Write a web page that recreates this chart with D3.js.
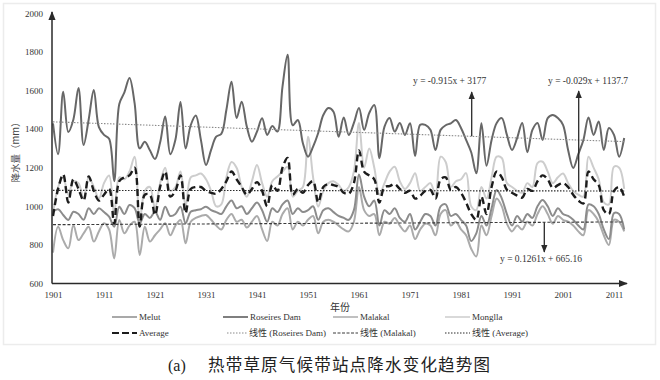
<!DOCTYPE html>
<html><head><meta charset="utf-8">
<script src="https://cdn.jsdelivr.net/npm/d3@7"></script>
<style>
html,body{margin:0;padding:0;background:#fff;}
svg{display:block;}
</style></head>
<body>
<svg id="c" width="660" height="380"></svg>
<script>
const startYear = 1901, endYear = 2013;
const xTicks = [1901,1911,1921,1931,1941,1951,1961,1971,1981,1991,2001,2011];
const yTicks = [600,800,1000,1200,1400,1600,1800,2000];

const roseires = [1430,1270,1593,1385,1450,1613,1318,1450,1603,1410,1370,1350,1130,1530,1590,1665,1535,1300,1335,1290,
1245,1330,1465,1270,1345,1540,1300,1420,1470,1344,1214,1292,1361,1375,1500,1645,1458,1542,1413,1335,
1387,1456,1370,1416,1387,1620,1785,1420,1447,1327,1257,1309,1380,1473,1509,1490,1360,1460,1370,1432,
1509,1396,1483,1525,1249,1413,1458,1387,1432,1370,1430,1260,1422,1422,1396,1292,1396,1420,1430,1447,
1406,1344,1280,1171,1430,1210,1344,1432,1457,1370,1292,1353,1432,1280,1396,1432,1344,1457,1473,1457,
1422,1292,1199,1270,1344,1460,1370,1439,1292,1406,1370,1257,1354];

const average = [950,1090,1165,1020,1140,1090,1030,1155,1080,1030,1060,1090,910,1130,1150,1160,1200,895,1060,1060,
955,1100,1180,1050,1080,1160,965,1090,1100,1100,1080,1070,1065,1090,1130,1180,1140,1100,1060,1090,
1125,1080,1000,1110,1080,1200,1250,1060,1090,1070,1110,1130,1020,1100,1115,1110,1100,1070,1065,1120,
1290,1180,1160,1140,1020,1100,1105,1115,1090,1070,1080,1040,1055,1080,1085,1040,1140,1150,1085,1100,
1070,1020,960,930,1050,960,1100,1180,1150,1085,1070,1055,1045,1090,1080,1130,1160,1140,1095,1110,
1120,1100,1060,1030,1015,1180,1140,1110,980,960,1080,1100,1050];

const mongalla = [960,1100,1150,1060,1130,1120,1040,1150,1100,1040,1120,1160,960,1150,1140,1180,1257,920,1080,1100,
990,1120,1200,1080,1100,1180,1000,1150,1160,1170,1140,1080,1000,1010,1150,1230,1200,1100,1050,1130,
1214,1120,1050,1130,1154,1180,1205,1050,1080,1100,1361,1150,998,1080,1120,1130,1110,1080,1100,1180,
1432,1200,1300,1200,1060,1120,1180,1205,1130,1090,1120,1171,1080,1100,1120,1060,1257,1230,1100,1130,
1140,1172,1000,980,1100,1040,1150,1257,1250,1120,1100,1080,1070,1120,1100,1224,1231,1180,1120,1150,
1170,1120,1080,1060,1050,1257,1200,1140,1020,1010,1205,1200,1090];

const melut = [972,985,955,929,972,960,930,990,960,990,970,946,894,998,960,1007,990,912,960,940,
972,930,998,950,960,998,912,972,980,985,998,980,970,960,1000,1030,990,1000,960,990,
1020,980,920,990,970,1010,1030,960,990,970,980,1000,930,980,990,970,950,940,930,980,
1165,1050,1000,1030,900,980,960,990,940,920,960,880,920,960,950,900,1000,1010,950,960,
930,900,820,860,950,900,990,1085,1040,960,900,950,920,960,940,1000,1033,1000,950,990,
960,950,930,900,880,1010,1000,960,880,830,965,960,880];

const malakal = [760,894,825,782,903,825,860,894,817,870,912,880,730,929,860,900,920,748,894,817,
850,880,912,850,900,929,808,920,940,950,955,930,900,880,930,960,920,930,890,920,
950,880,820,920,900,960,990,880,920,900,930,950,860,920,930,920,900,880,870,920,
1100,980,950,960,850,920,910,940,900,870,900,830,880,910,900,850,960,980,900,920,
880,850,780,740,900,850,950,1040,1000,910,870,900,880,920,900,960,1000,960,910,950,
930,920,900,870,850,980,960,920,850,800,930,920,870];

// trend line coefficients printed on the chart: [slope, intercept]
const trendRoseires = [-0.915, 3177];
const trendMalakal = [0.1261, 665.16];
const trendAverage = [-0.029, 1137.7];

const years = d3.range(startYear, endYear + 1);

const svg = d3.select("#c");
svg.append("rect").attr("x",0).attr("y",0).attr("width",660).attr("height",380).attr("fill","#fff");
svg.append("rect").attr("x",3.5).attr("y",3.5).attr("width",652).attr("height",341)
  .attr("fill","none").attr("stroke","#ececec").attr("stroke-width",1.5);

const x = d3.scaleLinear().domain([startYear, endYear]).range([53, 624.2]);
const y = d3.scaleLinear().domain([600, 2000]).range([283.5, 13.3]);

const defs = svg.append("defs");
defs.append("marker").attr("id","arr").attr("viewBox","0 0 10 10").attr("refX",9).attr("refY",5)
  .attr("markerWidth",6).attr("markerHeight",6).attr("orient","auto")
  .append("path").attr("d","M0,1 L10,5 L0,9 z").attr("fill","#2a2a2a");

const serif = "'Liberation Serif','Times New Roman','Noto Sans CJK SC',serif";

// axes labels
const gx = svg.append("g").attr("transform","translate(0,283.5)")
  .call(d3.axisBottom(x).tickValues(xTicks).tickSize(0).tickPadding(8).tickFormat(d3.format("d")));
gx.select(".domain").remove();
gx.attr("font-family",null);
gx.selectAll("text").style("font-family",serif).style("font-size","9px").attr("fill","#333");

const gy = svg.append("g").attr("transform","translate(52,0)")
  .call(d3.axisLeft(y).tickValues(yTicks).tickSize(0).tickPadding(9).tickFormat(d3.format("d")));
gy.select(".domain").remove();
gy.attr("font-family",null);
gy.selectAll("text").style("font-family",serif).style("font-size","9px").attr("fill","#333");

// series
const line = d3.line().x((d,i)=>x(years[i])).y(d=>y(d)).curve(d3.curveCatmullRom.alpha(0.5));
const series = [
  {name:"Mongalla", data:mongalla, color:"#cdcdcd", w:2, dash:null},
  {name:"Malakal", data:malakal, color:"#ababab", w:2, dash:null},
  {name:"Melut", data:melut, color:"#8c8c8c", w:2, dash:null},
  {name:"Roseires Dam", data:roseires, color:"#676767", w:2, dash:null},
  {name:"Average", data:average, color:"#1c1c1c", w:2.4, dash:"7,4"}
];
series.forEach(s=>{
  svg.append("path").datum(s.data).attr("d",line).attr("fill","none")
    .attr("stroke",s.color).attr("stroke-width",s.w).attr("stroke-dasharray",s.dash)
    .attr("stroke-linejoin","round");
});

// trend lines
const trends = [
  {c:trendRoseires, color:"#8a8a8a", w:1.1, dash:"1.5,1.5"},
  {c:trendMalakal, color:"#3a3a3a", w:1.1, dash:"3,1.8"},
  {c:trendAverage, color:"#2a2a2a", w:1.1, dash:"1.5,1.5"}
];
trends.forEach(t=>{
  const ends = [startYear, endYear].map(yr=>[x(yr), y(t.c[0]*yr + t.c[1])]);
  svg.append("path").attr("d", d3.line()(ends)).attr("fill","none")
    .attr("stroke",t.color).attr("stroke-width",t.w).attr("stroke-dasharray",t.dash);
});

// axis lines with arrows
svg.append("line").attr("x1",52).attr("y1",283.5).attr("x2",52).attr("y2",12)
  .attr("stroke","#2a2a2a").attr("stroke-width",1.5).attr("marker-end","url(#arr)");
svg.append("line").attr("x1",52).attr("y1",283.5).attr("x2",627).attr("y2",283.5)
  .attr("stroke","#2a2a2a").attr("stroke-width",1.5).attr("marker-end","url(#arr)");

// annotations (equations with arrows)
const ann = [
  {text:"y = -0.915x + 3177", tx:413, ty:84, ax:471.7, yr:1982, c:trendRoseires, tip:92},
  {text:"y = -0.029x + 1137.7", tx:548, ty:84, ax:578.7, yr:2004, c:trendAverage, tip:91},
  {text:"y = 0.1261x + 665.16", tx:500, ty:261.5, ax:544.3, yr:1997, c:trendMalakal, tip:252}
];
ann.forEach(a=>{
  const base = y(a.c[0]*a.yr + a.c[1]);
  svg.append("line").attr("x1",a.ax).attr("y1",base).attr("x2",a.ax).attr("y2",a.tip)
    .attr("stroke","#2a2a2a").attr("stroke-width",1.3).attr("marker-end","url(#arr)");
  svg.append("text").attr("x",a.tx).attr("y",a.ty).text(a.text)
    .style("font-family",serif).style("font-size","9.5px").attr("fill","#333");
});

// axis titles
svg.append("text").attr("x",340).attr("y",311).attr("text-anchor","middle").text("年份")
  .style("font-family","'Noto Sans CJK SC',sans-serif").style("font-size","10px").attr("fill","#333");
svg.append("text").attr("transform","translate(19,150) rotate(-90)").attr("text-anchor","middle")
  .text("降水量（mm）").style("font-family","'Noto Sans CJK SC',serif").style("font-size","9.5px").attr("fill","#444");

// legend
const legend = [
  {label:"Melut", x:112, y:317, color:"#8c8c8c", w:1.5, dash:null, len:25},
  {label:"Roseires Dam", x:223, y:317, color:"#555", w:1.5, dash:null, len:25},
  {label:"Malakal", x:333, y:317, color:"#ababab", w:1.5, dash:null, len:25},
  {label:"Monglla", x:445, y:317, color:"#cdcdcd", w:1.5, dash:null, len:25},
  {label:"Average", x:112, y:333, color:"#1c1c1c", w:2.2, dash:"7,3", len:25},
  {label:"线性 (Roseires Dam)", x:227, y:333, color:"#8a8a8a", w:1, dash:"1.5,1.5", len:20},
  {label:"线性 (Malakal)", x:333, y:333, color:"#3a3a3a", w:1, dash:"3,1.5", len:25},
  {label:"线性 (Average)", x:445, y:333, color:"#2a2a2a", w:1, dash:"1.5,1.5", len:25}
];
legend.forEach(l=>{
  svg.append("line").attr("x1",l.x).attr("x2",l.x+l.len).attr("y1",l.y).attr("y2",l.y)
    .attr("stroke",l.color).attr("stroke-width",l.w).attr("stroke-dasharray",l.dash);
  svg.append("text").attr("x",l.x+l.len+2).attr("y",l.y+3).text(l.label)
    .style("font-family",serif).style("font-size","9px").attr("fill","#333");
});

// caption
svg.append("text").attr("x",168).attr("y",371).text("(a)")
  .style("font-family",serif).style("font-size","16px").attr("fill","#222");
svg.append("text").attr("x",208).attr("y",371).text("热带草原气候带站点降水变化趋势图")
  .style("font-family","'Noto Sans CJK SC',sans-serif").style("font-size","16.5px")
  .style("letter-spacing","1.2px").attr("fill","#222");
</script>
</body></html>
